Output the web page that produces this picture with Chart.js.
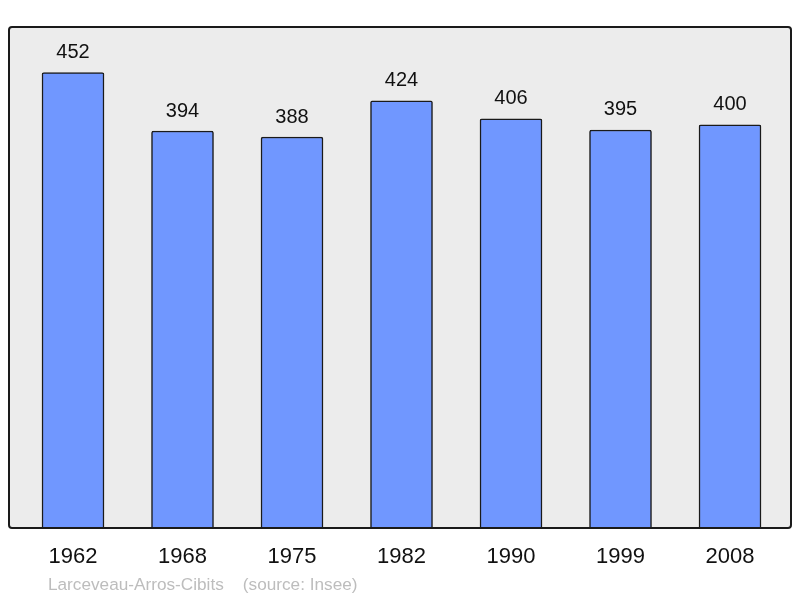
<!DOCTYPE html>
<html><head><meta charset="utf-8">
<script src="https://cdn.jsdelivr.net/npm/chart.js@4"></script>
<style>html,body{margin:0;padding:0;background:#fff}#wrap{width:800px;height:598px;position:relative}</style>
</head><body><div id="wrap"><canvas id="c" width="800" height="598"></canvas></div>
<script>
const years = ["1962","1968","1975","1982","1990","1999","2008"];
const population = [452,394,388,424,406,395,400];
const footerText = "Larceveau-Arros-Cibits    (source: Insee)";

const points = population.map((v,i)=>({x:i,y:v}));

const framePlugin = {
  id:'frame',
  beforeDraw(chart){
    const {ctx, chartArea:a} = chart;
    ctx.save();
    ctx.fillStyle = '#ececec';
    ctx.beginPath();
    ctx.roundRect(a.left, a.top, a.right-a.left, a.bottom-a.top, 3);
    ctx.fill();
    ctx.restore();
  },
  afterDatasetsDraw(chart){
    const {ctx, chartArea:a} = chart;
    ctx.save();
    ctx.strokeStyle = '#1a1a1a';
    ctx.lineWidth = 2;
    ctx.beginPath();
    ctx.roundRect(a.left, a.top, a.right-a.left, a.bottom-a.top, 3);
    ctx.stroke();
    const meta = chart.getDatasetMeta(0);
    ctx.fillStyle = '#111';
    ctx.font = '20px "Liberation Sans", Arial, sans-serif';
    ctx.textAlign = 'center';
    ctx.textBaseline = 'middle';
    meta.data.forEach((bar,i)=>{
      ctx.fillText(String(population[i]), bar.x, bar.y - 20);
    });
    ctx.fillStyle = '#bdbdbd';
    ctx.font = '17.2px "Liberation Sans", Arial, sans-serif';
    ctx.textAlign = 'left';
    ctx.textBaseline = 'alphabetic';
    ctx.fillText(footerText, 48, 590);
    ctx.restore();
  }
};

new Chart(document.getElementById('c'), {
  type:'bar',
  data:{datasets:[{
    data: points,
    backgroundColor:'#7097ff',
    borderColor:'#1a1a1a',
    borderWidth:1.5,
    borderRadius:2,
    borderSkipped:'bottom',
    barThickness:62
  }]},
  options:{
    responsive:false,
    animation:false,
    devicePixelRatio:1,
    layout:{padding:{top:27,left:9,right:9,bottom:0}},
    plugins:{legend:{display:false},tooltip:{enabled:false}},
    scales:{
      x:{
        type:'linear',
        offset:false,
        bounds:'data',
        min:-0.5845, max:6.557,
        grid:{display:false, drawTicks:false, offset:false},
        border:{display:false},
        afterBuildTicks(s){ s.ticks = years.map((y,i)=>({value:i})); },
        afterFit(s){ s.height = 70; },
        ticks:{
          autoSkip:false, maxRotation:0,
          padding:16,
          color:'#111',
          font:{size:22, family:'"Liberation Sans", Arial, sans-serif'},
          callback:(v)=>years[v]
        }
      },
      y:{
        display:false,
        min:0, max:497.2
      }
    }
  },
  plugins:[framePlugin]
});
</script></body></html>
